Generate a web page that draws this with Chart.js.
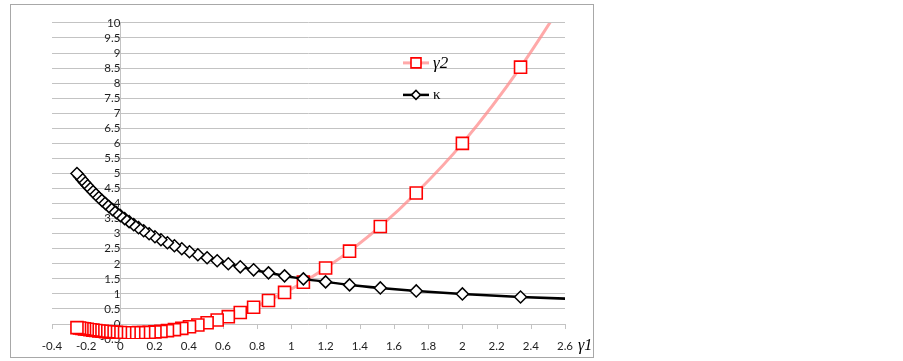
<!DOCTYPE html>
<html>
<head>
<meta charset="utf-8">
<script src="https://cdn.jsdelivr.net/npm/chart.js@4.4.1/dist/chart.umd.min.js"></script>
<style>
  html, body { margin: 0; padding: 0; background: #ffffff; }
  body { width: 903px; height: 361px; position: relative; overflow: hidden; }
  #frame { position: absolute; left: 10px; top: 4px; width: 582px; height: 352px; border: 1px solid #a8a8a8; }
  canvas { display: block; }
</style>
</head>
<body>
<div id="frame"><canvas id="c" width="582" height="352"></canvas></div>
<script>
// shape parameter kappa (y of the black series)
const kappa = [0.8, 0.9, 1.0, 1.1, 1.2, 1.3, 1.4, 1.5, 1.6, 1.7, 1.8, 1.9, 2.0,
  2.1, 2.2, 2.3, 2.4, 2.5, 2.6, 2.7, 2.8, 2.9, 3.0, 3.1, 3.2, 3.3, 3.4, 3.5,
  3.6, 3.7, 3.8, 3.9, 4.0, 4.1, 4.2, 4.3, 4.4, 4.5, 4.6, 4.7, 4.8, 4.9, 5.0];
// gamma1 (x position shared by both series)
const gamma1 = [2.815, 2.34, 2.00, 1.73, 1.52, 1.34, 1.20, 1.07, 0.96, 0.866, 0.779, 0.701, 0.631,
  0.566, 0.507, 0.453, 0.404, 0.359, 0.316, 0.275, 0.237, 0.202, 0.168, 0.136, 0.106, 0.078, 0.051, 0.025,
  0.000, -0.023, -0.046, -0.067, -0.087, -0.107, -0.126, -0.144, -0.161, -0.178, -0.194, -0.210, -0.225, -0.239, -0.254];
// gamma2 (y of the red series)
const gamma2 = [12.74, 8.53, 6.00, 4.35, 3.24, 2.42, 1.86, 1.39, 1.05, 0.78, 0.557, 0.385, 0.245,
  0.133, 0.043, -0.030, -0.092, -0.143, -0.186, -0.219, -0.244, -0.261, -0.271, -0.279, -0.284, -0.288, -0.289, -0.287,
  -0.283, -0.277, -0.270, -0.261, -0.252, -0.241, -0.229, -0.216, -0.203, -0.189, -0.175, -0.161, -0.147, -0.133, -0.119];

const xMin = -0.4, xMax = 2.6, xStep = 0.2;
const yMin = -0.5, yMax = 10, yStep = 0.5;
const seriesNames = ['γ2', 'κ'];
const xAxisName = 'γ1';

const pinkLine = 'rgba(255,140,140,0.75)';
const gridColor = '#c3c3c3';
const labelColor = '#1e1e1e';
const tickFont = { family: 'Lato', size: 11.5 };

const fmt = v => String(Math.round(v * 10) / 10);

const pairs = (xs, ys) => xs.map((x, i) => ({ x: x, y: ys[i] }));

const extras = {
  id: 'extras',
  beforeDatasetsDraw(chart) {
    const ctx = chart.ctx, xs = chart.scales.x, ys = chart.scales.y;
    const y0 = ys.getPixelForValue(0);
    ctx.save();
    ctx.strokeStyle = gridColor;
    ctx.lineWidth = 1;
    xs.ticks.forEach(t => {
      const px = Math.round(xs.getPixelForValue(t.value)) + 0.5;
      ctx.beginPath();
      ctx.moveTo(px, y0);
      ctx.lineTo(px, y0 + 5);
      ctx.stroke();
    });
    ctx.restore();
  },
  afterDraw(chart) {
    const ctx = chart.ctx, a = chart.chartArea;
    ctx.save();
    // legend
    const lx = a.left + 351, ly1 = a.top + 40, ly2 = a.top + 72;
    ctx.lineCap = 'butt';
    ctx.strokeStyle = pinkLine; ctx.lineWidth = 3;
    ctx.beginPath(); ctx.moveTo(lx, ly1); ctx.lineTo(lx + 26, ly1); ctx.stroke();
    ctx.fillStyle = '#ffffff'; ctx.strokeStyle = '#ff0000'; ctx.lineWidth = 1.6;
    ctx.beginPath(); ctx.rect(lx + 8, ly1 - 5, 10, 10); ctx.fill(); ctx.stroke();
    ctx.strokeStyle = '#000000'; ctx.lineWidth = 2.5;
    ctx.beginPath(); ctx.moveTo(lx, ly2); ctx.lineTo(lx + 26, ly2); ctx.stroke();
    ctx.lineWidth = 1.5; ctx.fillStyle = '#ffffff';
    ctx.beginPath();
    ctx.moveTo(lx + 13 - 4.5, ly2); ctx.lineTo(lx + 13, ly2 - 4.5);
    ctx.lineTo(lx + 13 + 4.5, ly2); ctx.lineTo(lx + 13, ly2 + 4.5); ctx.closePath();
    ctx.fill(); ctx.stroke();
    ctx.fillStyle = '#000000';
    ctx.textBaseline = 'alphabetic'; ctx.textAlign = 'left';
    ctx.font = 'italic 17px "Liberation Serif", "DejaVu Serif", serif';
    ctx.fillText(seriesNames[0], lx + 30, ly1 + 5);
    ctx.font = '15px "Liberation Serif", "DejaVu Serif", serif';
    ctx.fillText(seriesNames[1], lx + 30, ly2 + 4);
    // x axis name
    ctx.font = 'italic 16px "Liberation Serif", "DejaVu Serif", serif';
    ctx.fillText(xAxisName, a.right + 13, a.bottom + 11);
    ctx.restore();
  }
};

new Chart(document.getElementById('c'), {
  type: 'line',
  data: {
    datasets: [
      {
        label: seriesNames[0],
        data: pairs(gamma1, gamma2),
        order: 1,
        borderColor: pinkLine,
        borderWidth: 3,
        pointStyle: 'rect',
        pointRadius: 8.5,
        pointBorderColor: '#ff0000',
        pointBackgroundColor: '#ffffff',
        pointBorderWidth: 1.6,
        cubicInterpolationMode: 'monotone',
        fill: false
      },
      {
        label: seriesNames[1],
        data: pairs(gamma1, kappa),
        order: 0,
        borderColor: '#000000',
        borderWidth: 2.5,
        pointStyle: 'rectRot',
        pointRadius: 6,
        pointBorderColor: '#000000',
        pointBackgroundColor: '#ffffff',
        pointBorderWidth: 1.5,
        cubicInterpolationMode: 'monotone',
        fill: false
      }
    ]
  },
  options: {
    responsive: false,
    animation: false,
    devicePixelRatio: 1,
    layout: { padding: { left: 41, right: 28, top: 14, bottom: 17 } },
    plugins: { legend: { display: false }, tooltip: { enabled: false } },
    scales: {
      x: {
        type: 'linear',
        position: { y: yMin },
        min: xMin, max: xMax,
        grid: { display: false, drawTicks: false },
        border: { display: false },
        ticks: {
          stepSize: xStep, autoSkip: false, maxRotation: 0, padding: 0,
          color: labelColor, font: tickFont,
          callback: v => fmt(v)
        }
      },
      y: {
        type: 'linear',
        position: { x: 0 },
        min: yMin, max: yMax,
        grid: {
          drawTicks: false,
          color: c => (c.tick && Math.abs(c.tick.value - yMin) < 1e-9) ? 'rgba(0,0,0,0)' : gridColor,
          lineWidth: 1
        },
        border: { display: true, color: gridColor, width: 1 },
        ticks: {
          stepSize: yStep, autoSkip: false, padding: 11,
          color: labelColor, font: tickFont,
          callback: v => fmt(v)
        }
      }
    }
  },
  plugins: [extras]
});
</script>
</body>
</html>
